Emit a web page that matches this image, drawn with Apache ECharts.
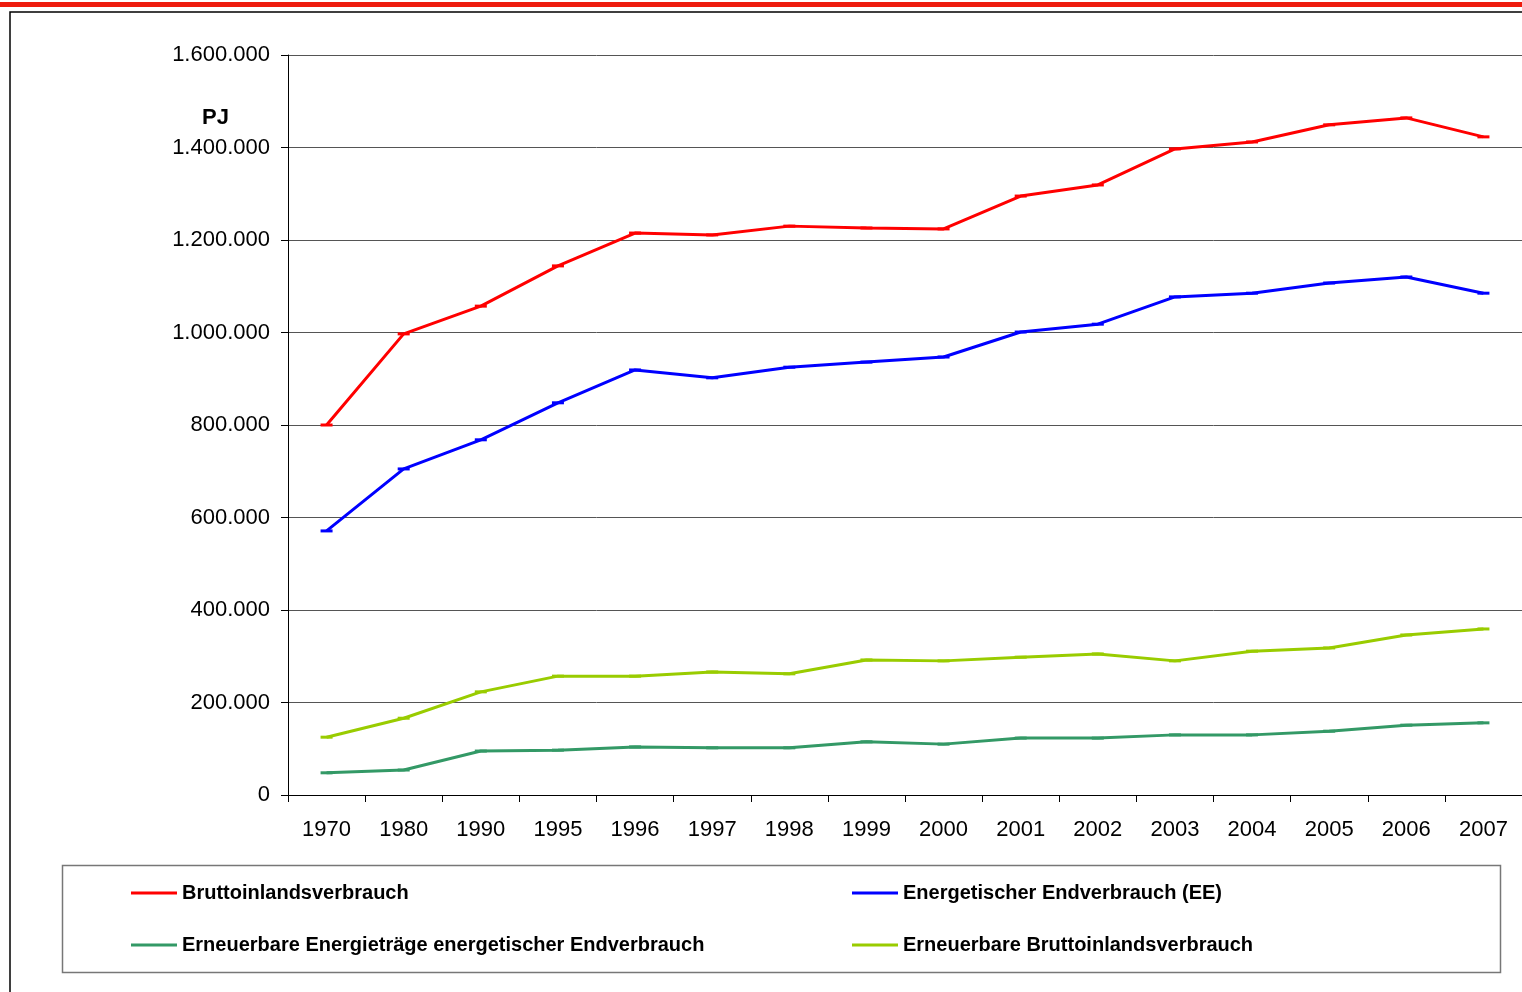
<!DOCTYPE html>
<html>
<head>
<meta charset="utf-8">
<script src="https://cdn.jsdelivr.net/npm/echarts@6/dist/echarts.min.js"></script>
<style>
html,body{margin:0;padding:0;background:#fff;}
#chart{width:1522px;height:992px;}
</style>
</head>
<body>
<div id="chart"></div>
<script>
var years = ["1970","1980","1990","1995","1996","1997","1998","1999","2000","2001","2002","2003","2004","2005","2006","2007"];
var yTicks = [0,200000,400000,600000,800000,1000000,1200000,1400000,1600000];

var bruttoInland = [800000,997000,1057000,1144000,1215000,1211000,1230000,1226000,1224000,1295000,1319000,1397000,1412000,1449000,1464000,1423000];
var endverbrauch = [571000,705000,768000,848000,919000,902000,925000,936000,947000,1001000,1018000,1077000,1085000,1107000,1120000,1085000];
var eeEndverbrauch = [48000,54000,95000,97000,104000,102000,102000,115000,110000,123000,123000,130000,130000,138000,151000,156000];
var eeBrutto = [125000,166000,223000,257000,257000,266000,262000,292000,290000,298000,305000,290000,311000,318000,346000,359000];

var names = ["Bruttoinlandsverbrauch","Energetischer Endverbrauch (EE)","Erneuerbare Energieträge energetischer Endverbrauch","Erneuerbare Bruttoinlandsverbrauch"];
var colors = ["#ff0000","#0000ff","#339966","#99cc00"];

// Zahlen im deutschen Format: 1.600.000
function fmt(v){
    return String(v).replace(/\B(?=(\d{3})+(?!\d))/g, ".");
}

function mkSeries(name, data, color){
    return {
        name: name,
        type: 'line',
        data: data,
        symbol: 'rect',
        symbolSize: [12,3],
        showSymbol: true,
        lineStyle: {color: color, width: 3},
        itemStyle: {color: color},
        animation: false
    };
}

var legendText = {fontSize: 20, fontWeight: 'bold', color: '#000', lineHeight: 20};

var myChart = echarts.init(document.getElementById('chart'));
var option = {
    backgroundColor: '#fff',
    textStyle: {fontFamily: 'Liberation Sans, Arial, sans-serif'},
    grid: {left: 288, right: 0, top: 55, bottom: 197},
    xAxis: {
        type: 'category',
        data: years,
        boundaryGap: true,
        axisLine: {lineStyle: {color: '#000', width: 1}},
        axisTick: {show: true, length: 7, lineStyle: {color: '#000'}},
        axisLabel: {color: '#000', fontSize: 22, margin: 24}
    },
    yAxis: {
        type: 'value',
        min: 0,
        max: 1600000,
        interval: 200000,
        axisLine: {show: true, lineStyle: {color: '#000'}},
        axisTick: {show: true, length: 7, lineStyle: {color: '#000'}},
        axisLabel: {color: '#000', fontSize: 22, margin: 18, formatter: fmt},
        splitLine: {lineStyle: {color: '#555', width: 1}}
    },
    legend: [
        {
            left: 131, top: 883, orient: 'vertical', itemGap: 32, padding: 0,
            itemWidth: 46, itemHeight: 3, icon: 'rect',
            data: [names[0], names[2]],
            textStyle: legendText
        },
        {
            left: 852, top: 883, orient: 'vertical', itemGap: 32, padding: 0,
            itemWidth: 46, itemHeight: 3, icon: 'rect',
            data: [names[1], names[3]],
            textStyle: legendText
        }
    ],
    graphic: [
        {type: 'rect', shape: {x: 0, y: 2, width: 1522, height: 5}, style: {fill: '#ee1c0e'}, silent: true},
        {type: 'polyline', shape: {points: [[10,992],[10,12],[1522,12]]}, style: {stroke: '#000', lineWidth: 1.5, fill: null}, silent: true},
        {type: 'rect', shape: {x: 62.5, y: 865.5, width: 1438, height: 107}, style: {stroke: '#777', lineWidth: 1.5, fill: null}, silent: true},
        {type: 'text', left: 202, top: 107, style: {text: 'PJ', fontSize: 22, fontWeight: 'bold', fill: '#000', fontFamily: 'Liberation Sans, Arial, sans-serif'}}
    ],
    series: [
        mkSeries(names[0], bruttoInland, colors[0]),
        mkSeries(names[1], endverbrauch, colors[1]),
        mkSeries(names[2], eeEndverbrauch, colors[2]),
        mkSeries(names[3], eeBrutto, colors[3])
    ]
};
myChart.setOption(option);
</script>
</body>
</html>
